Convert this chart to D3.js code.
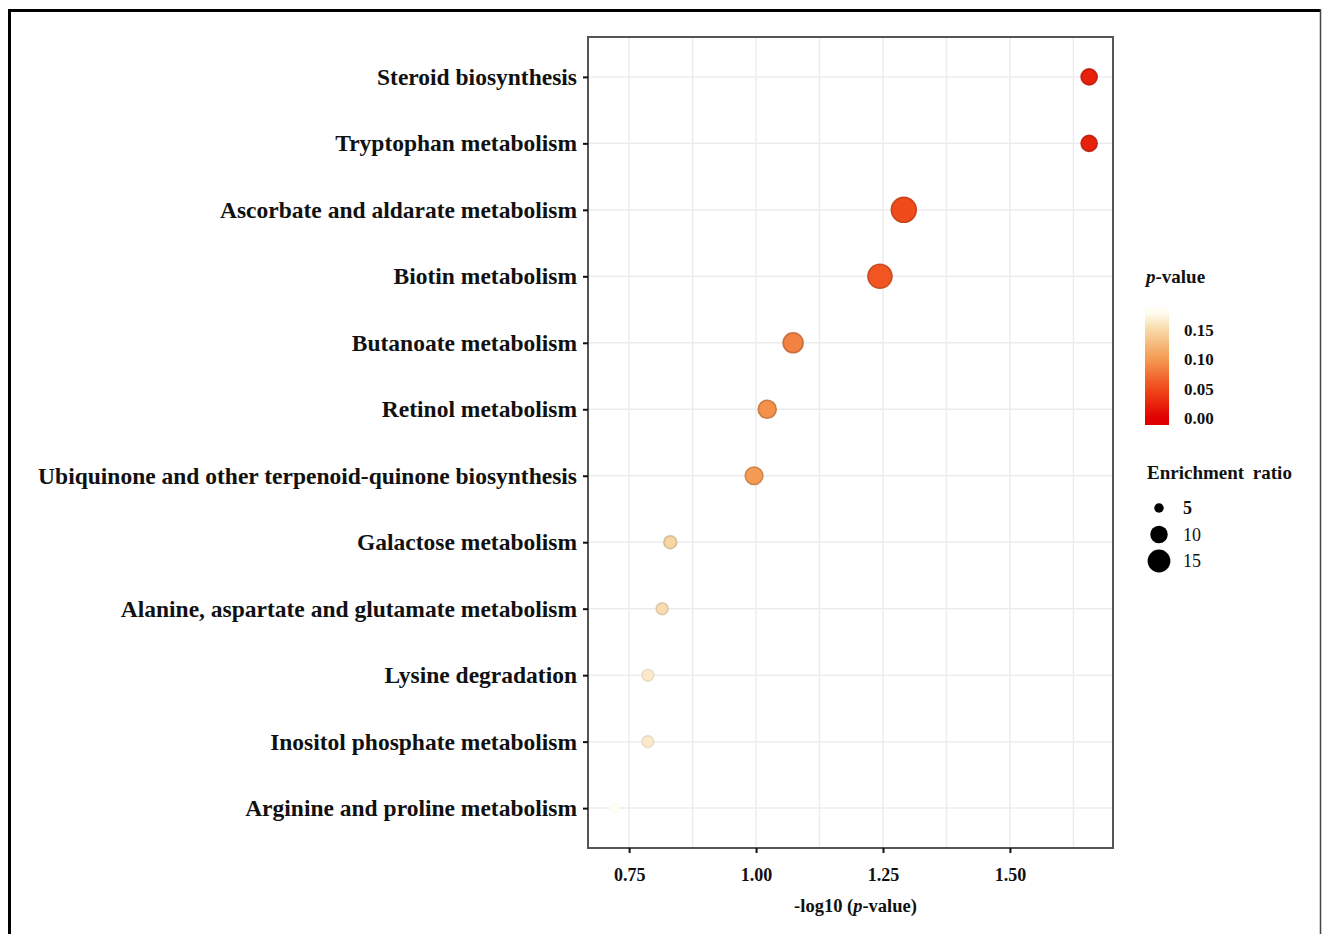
<!DOCTYPE html>
<html>
<head>
<meta charset="utf-8">
<script src="https://cdn.jsdelivr.net/npm/d3@7"></script>
<style>
  body { margin: 0; background: #fff; }
  svg { display: block; }
  text { font-family: "Liberation Serif", "Times New Roman", serif; font-weight: bold; fill: #111; }
</style>
</head>
<body>
<svg id="chart" width="1322" height="934"></svg>
<script>
// pathway names, top to bottom
const pathways = [
  "Steroid biosynthesis",
  "Tryptophan metabolism",
  "Ascorbate and aldarate metabolism",
  "Biotin metabolism",
  "Butanoate metabolism",
  "Retinol metabolism",
  "Ubiquinone and other terpenoid-quinone biosynthesis",
  "Galactose metabolism",
  "Alanine, aspartate and glutamate metabolism",
  "Lysine degradation",
  "Inositol phosphate metabolism",
  "Arginine and proline metabolism"
];
// -log10(p)
const logP = [1.656, 1.656, 1.291, 1.244, 1.073, 1.022, 0.996, 0.831, 0.815, 0.787, 0.787, 0.722];
// enrichment ratio (point size)
const enrichment = [8.3, 8.3, 16.0, 15.0, 11.3, 9.7, 9.4, 6.4, 5.9, 5.9, 5.9, 5.0];

const xTicks = [0.75, 1.00, 1.25, 1.50];
const xMinor = [0.875, 1.125, 1.375, 1.625];
const pTicks = [0.00, 0.05, 0.10, 0.15];
const sizeTicks = [5, 10, 15];

const rows = pathways.map((name, i) => ({
  name, logP: logP[i], p: Math.pow(10, -logP[i]), er: enrichment[i]
}));

const svg = d3.select("#chart");

// outer frame (left/top thick, right thin)
svg.append("line").attr("x1", 9.5).attr("x2", 9.5).attr("y1", 9).attr("y2", 934)
  .attr("stroke", "#000").attr("stroke-width", 3);
svg.append("line").attr("x1", 8).attr("x2", 1321).attr("y1", 10.5).attr("y2", 10.5)
  .attr("stroke", "#000").attr("stroke-width", 3);
svg.append("line").attr("x1", 1320.5).attr("x2", 1320.5).attr("y1", 9).attr("y2", 934)
  .attr("stroke", "#444").attr("stroke-width", 1.5);

const panel = { left: 588, top: 37, right: 1113, bottom: 848 };

const x = d3.scaleLinear()
  .domain([0.669, 1.703])
  .range([panel.left, panel.right]);

const y = d3.scalePoint()
  .domain(pathways)
  .range([panel.top, panel.bottom])
  .padding(0.6);

const pMax = 0.18;
const color = d3.scaleLinear()
  .domain([0, 0.05, 0.10, 0.15, pMax])
  .range(["#e00000", "#f04a1a", "#f49a52", "#f8d9a6", "#fffef4"])
  .clamp(true);

const size = d3.scaleRadial()
  .domain([5, 15])
  .range([5, 12]);

// grid
const g = svg.append("g");
g.selectAll(".gx").data(xTicks.concat(xMinor)).join("line")
  .attr("x1", d => x(d)).attr("x2", d => x(d))
  .attr("y1", panel.top).attr("y2", panel.bottom)
  .attr("stroke", "#ececf0").attr("stroke-width", 1.5);
g.selectAll(".gy").data(pathways).join("line")
  .attr("x1", panel.left).attr("x2", panel.right)
  .attr("y1", d => y(d)).attr("y2", d => y(d))
  .attr("stroke", "#ececf0").attr("stroke-width", 1.5);

// points
const strokeFade = d3.scaleLinear().domain([0.14, pMax]).range([0.9, 0]).clamp(true);
g.selectAll("circle").data(rows).join("circle")
  .attr("cx", d => x(d.logP))
  .attr("cy", d => y(d.name))
  .attr("r", d => size(d.er))
  .attr("fill", d => color(d.p))
  .attr("stroke", d => d3.color(color(d.p)).darker(0.6))
  .attr("stroke-opacity", d => strokeFade(d.p))
  .attr("stroke-width", 1.6);

// panel border
svg.append("rect")
  .attr("x", panel.left).attr("y", panel.top)
  .attr("width", panel.right - panel.left).attr("height", panel.bottom - panel.top)
  .attr("fill", "none").attr("stroke", "#555").attr("stroke-width", 2);

// y axis
const yAxis = svg.append("g")
  .attr("transform", `translate(${panel.left},0)`)
  .call(d3.axisLeft(y).tickSize(5).tickPadding(6));
yAxis.select(".domain").remove();
yAxis.selectAll(".tick line").attr("stroke", "#111").attr("stroke-width", 2);
yAxis.selectAll(".tick text")
  .style("font-size", "23.5px")
  .style("font-family", "'Liberation Serif', serif")
  .style("font-weight", "bold")
  .attr("fill", "#111");

// x axis
const xAxis = svg.append("g")
  .attr("transform", `translate(0,${panel.bottom})`)
  .call(d3.axisBottom(x).tickValues(xTicks).tickFormat(d3.format(".2f")).tickSize(5).tickPadding(15));
xAxis.select(".domain").remove();
xAxis.selectAll(".tick line").attr("stroke", "#111").attr("stroke-width", 2);
xAxis.selectAll(".tick text")
  .style("font-size", "18px")
  .style("font-family", "'Liberation Serif', serif")
  .style("font-weight", "bold")
  .attr("fill", "#222");

const xTitle = svg.append("text")
  .attr("x", (panel.left + panel.right) / 2 + 5)
  .attr("y", 912)
  .attr("text-anchor", "middle")
  .style("font-size", "18.5px");
xTitle.append("tspan").text("-log10 (");
xTitle.append("tspan").style("font-style", "italic").text("p");
xTitle.append("tspan").text("-value)");

// colour legend
const leg = { x: 1145, top: 307, bottom: 425, w: 24 };
const pLeg = d3.scaleLinear().domain([-0.012, 0.189]).range([leg.bottom, leg.top]);

const pTitle = svg.append("text").attr("x", 1146).attr("y", 283).style("font-size", "19px");
pTitle.append("tspan").style("font-style", "italic").text("p");
pTitle.append("tspan").text("-value");

const grad = svg.append("defs").append("linearGradient")
  .attr("id", "pgrad").attr("x1", 0).attr("x2", 0).attr("y1", 1).attr("y2", 0);
d3.range(0, 1.0001, 0.05).forEach(t => {
  const v = pLeg.invert(leg.bottom - t * (leg.bottom - leg.top));
  grad.append("stop").attr("offset", t).attr("stop-color", color(v));
});
svg.append("rect")
  .attr("x", leg.x).attr("y", leg.top)
  .attr("width", leg.w).attr("height", leg.bottom - leg.top)
  .attr("fill", "url(#pgrad)");

svg.selectAll(".ptick").data(pTicks).join("text")
  .attr("x", leg.x + 39)
  .attr("y", d => pLeg(d))
  .attr("dy", "0.35em")
  .style("font-size", "17px")
  .text(d => d3.format(".2f")(d));

// size legend
svg.append("text").attr("x", 1147).attr("y", 479)
  .style("font-size", "19px").style("word-spacing", "4px").text("Enrichment ratio");

const sizeY = d3.scalePoint().domain(sizeTicks).range([508, 561]);
svg.selectAll(".sdot").data(sizeTicks).join("circle")
  .attr("cx", 1159)
  .attr("cy", d => sizeY(d))
  .attr("r", d => size(d) * 0.95)
  .attr("fill", "#000");
svg.selectAll(".slab").data(sizeTicks).join("text")
  .attr("x", 1183)
  .attr("y", d => sizeY(d))
  .attr("dy", "0.35em")
  .style("font-size", "18px")
  .style("font-weight", d => d === 5 ? "bold" : "normal")
  .text(d => d);
</script>
</body>
</html>
